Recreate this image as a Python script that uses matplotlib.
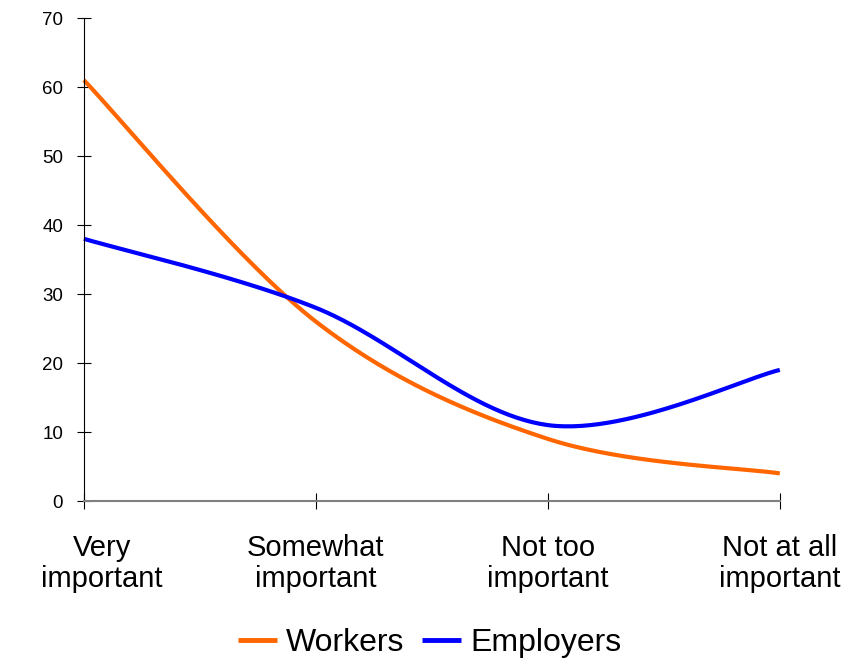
import numpy as np
import matplotlib
matplotlib.use("Agg")
import matplotlib.pyplot as plt
from matplotlib.transforms import ScaledTranslation

categories = ["Very\nimportant", "Somewhat\nimportant", "Not too\nimportant", "Not at all\nimportant"]
workers = [61, 26, 9, 4]
employers = [38, 28, 11, 19]
yticks = [0, 10, 20, 30, 40, 50, 60, 70]

plt.rcParams['font.family'] = ['Liberation Sans', 'DejaVu Sans']


def smooth(x, y, n=60):
    # Catmull-Rom style smoothing similar to spreadsheet "smoothed line"
    x = np.asarray(x, float)
    y = np.asarray(y, float)
    px = np.concatenate([[x[0]], x, [x[-1]]])
    py = np.concatenate([[y[0]], y, [y[-1]]])
    xs, ys = [], []
    for i in range(1, len(px) - 2):
        p0 = np.array([px[i - 1], py[i - 1]])
        p1 = np.array([px[i], py[i]])
        p2 = np.array([px[i + 1], py[i + 1]])
        p3 = np.array([px[i + 2], py[i + 2]])
        c1 = p1 + (p2 - p0) / 6.0
        c2 = p2 - (p3 - p1) / 6.0
        t = np.linspace(0, 1, n)[:, None]
        pts = ((1 - t) ** 3) * p1 + 3 * ((1 - t) ** 2) * t * c1 + 3 * (1 - t) * t ** 2 * c2 + t ** 3 * p2
        xs.append(pts[:, 0])
        ys.append(pts[:, 1])
    return np.concatenate(xs), np.concatenate(ys)


fig = plt.figure(figsize=(8.56, 6.62), dpi=100)
ax = fig.add_axes([0.098, 0.2432, 0.813, 0.7296])

xpos = np.arange(len(categories))
wx, wy = smooth(xpos, workers)
ex, ey = smooth(xpos, employers)
ax.plot(wx, wy, color="#FF6600", lw=3, label="Workers", solid_capstyle="butt", clip_on=False)
ax.plot(ex, ey, color="#0000FF", lw=3, label="Employers", solid_capstyle="butt", clip_on=False)

ax.set_xlim(0, 3)
ax.set_ylim(0, 70)
ax.set_yticks(yticks)
ax.set_yticklabels([str(v) for v in yticks], fontsize=13.5)
ax.set_xticks(xpos)
ax.set_xticklabels(categories, fontsize=21, linespacing=1.1)

for s in ["top", "right"]:
    ax.spines[s].set_visible(False)
ax.spines["left"].set_color("black")
ax.spines["left"].set_linewidth(0.8)
ax.spines["bottom"].set_color("#808080")
ax.spines["bottom"].set_linewidth(1.5)

ax.tick_params(axis="y", direction="inout", length=10, width=0.8, pad=10, colors="black")
ax.tick_params(axis="x", direction="inout", length=12, width=0.8, pad=18, colors="black")

# shift the first category label right, as in the reference
lbl = ax.get_xticklabels()[0]
lbl.set_transform(lbl.get_transform() + ScaledTranslation(18 / 100, 0, fig.dpi_scale_trans))

leg = fig.legend(loc="center", bbox_to_anchor=(0.502, 0.029), ncol=2, frameon=False,
                 fontsize=23, handlelength=1.22, handletextpad=0.3, columnspacing=0.55)
for h in leg.legend_handles:
    h.set_linewidth(3.5)

fig.savefig("out.png", dpi=100)
